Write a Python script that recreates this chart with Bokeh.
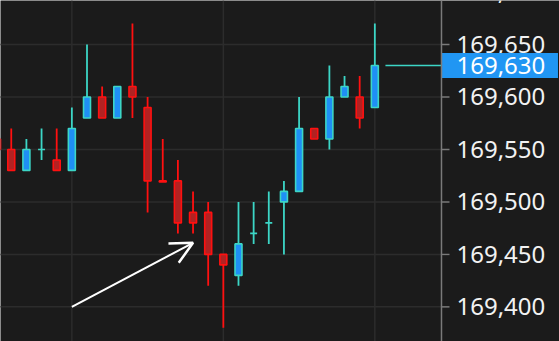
from bokeh.plotting import figure
from bokeh.models import ColumnDataSource, Span, Arrow, OpenHead
from bokeh.core.properties import value
from bokeh.embed import file_html
from bokeh.resources import INLINE

# ---- data ----
opens  = [169560, 169550, 169530, 169550, 169540, 169530, 169580, 169600, 169580, 169610,
          169590, 169520, 169520, 169490, 169490, 169450, 169430, 169470, 169480, 169500,
          169510, 169570, 169560, 169600, 169600, 169590]
closes = [169550, 169530, 169550, 169550, 169530, 169570, 169600, 169580, 169610, 169600,
          169520, 169519, 169480, 169480, 169450, 169440, 169460, 169470, 169480, 169510,
          169570, 169560, 169600, 169610, 169580, 169630]
highs  = [169565, 169570, 169560, 169570, 169570, 169590, 169650, 169610, 169610, 169670,
          169600, 169560, 169540, 169510, 169500, 169450, 169500, 169500, 169510, 169520,
          169600, 169570, 169630, 169620, 169620, 169670]
lows   = [169545, 169530, 169530, 169540, 169530, 169530, 169580, 169580, 169580, 169580,
          169490, 169520, 169470, 169470, 169420, 169380, 169420, 169460, 169460, 169450,
          169510, 169560, 169550, 169600, 169570, 169590]
last_price = 169630
y_ticks = [169400, 169450, 169500, 169550, 169600, 169650, 169700]
y_tick_labels = [f"{t:,}" for t in y_ticks]
x_grid = [5, 15, 25]
arrow_from = (5, 169400)
arrow_to = (13, 169461)

# ---- styling / layout constants ----
BG = "#1b1b1b"
GRID = "#2c2c2c"
AXIS = "#7a7a7a"
UP_FILL, UP_LINE = "#1f8ff5", "#3cd6c6"
DN_FILL, DN_LINE = "#b22222", "#ff1010"
PX = 15.15            # pixels per bar slot
X0, X1 = 0.29, 37.19  # visible bar-index range
X_AXIS = 29.40        # where the price scale starts
FONT = "Noto Sans"

idx = list(range(len(opens)))
up = [c >= o for o, c in zip(opens, closes)]
src = ColumnDataSource(dict(
    x=idx,
    top=[max(o, c) for o, c in zip(opens, closes)],
    bottom=[min(o, c) for o, c in zip(opens, closes)],
    high=highs, low=lows,
    fill=[UP_FILL if u else DN_FILL for u in up],
    line=[UP_LINE if u else DN_LINE for u in up],
))

p = figure(width=559, height=341, output_backend="svg", toolbar_location=None,
           x_range=(X0, X1), y_range=(169367.0, 169691.9),
           x_axis_location=None, y_axis_location=None, min_border=0,
           background_fill_color=BG, border_fill_color=BG, outline_line_color=None)
p.grid.visible = False

# grid lines (stop at the price scale), drawn beneath the candles
p.segment(x0=[X0 - 1] * len(y_ticks), y0=y_ticks, x1=[X_AXIS] * len(y_ticks), y1=y_ticks,
          line_color=GRID, line_width=1.5, level="underlay")
for gx in x_grid:
    p.add_layout(Span(location=gx, dimension="height", line_color=GRID, line_width=1.5,
                      level="underlay"))

# price scale: axis line, ticks, labels
p.add_layout(Span(location=X_AXIS, dimension="height", line_color=AXIS, line_width=1.5))
p.segment(x0=[X_AXIS] * len(y_ticks), y0=y_ticks, x1=[X_AXIS + 8 / PX] * len(y_ticks), y1=y_ticks,
          line_color=AXIS, line_width=1.5)
p.text(x=[X_AXIS + 15 / PX] * len(y_ticks), y=y_ticks, text=y_tick_labels,
       text_color="#f2f2f2", text_font=value(FONT), text_font_size="24px",
       text_align="left", text_baseline="middle")

# candles: wicks and bodies
p.segment(x0="x", y0="high", x1="x", y1="low", source=src, line_color="line", line_width=1.8)
p.vbar(x="x", width=0.46, top="top", bottom="bottom", source=src,
       fill_color="fill", line_color="line", line_width=1.6)

# last price line and marker box
n = len(opens)
p.segment(x0=[n - 1 + 0.7], y0=[last_price], x1=[X_AXIS], y1=[last_price],
          line_color=UP_LINE, line_width=1.5)
p.rect(x=[X_AXIS + 58.5 / PX], y=[last_price], width=116, height=25,
       width_units="screen", height_units="screen",
       fill_color="#2196f3", line_color=None)
p.text(x=[X_AXIS + 15 / PX], y=[last_price], text=[f"{last_price:,}"],
       text_color="white", text_font=value(FONT), text_font_size="24px",
       text_align="left", text_baseline="middle")

# arrow annotation
p.add_layout(Arrow(x_start=arrow_from[0], y_start=arrow_from[1], x_end=arrow_to[0], y_end=arrow_to[1],
                   line_color="white", line_width=2,
                   end=OpenHead(size=22, line_color="white", line_width=2.5)))

open("out.html", "w").write(file_html(p, INLINE))
